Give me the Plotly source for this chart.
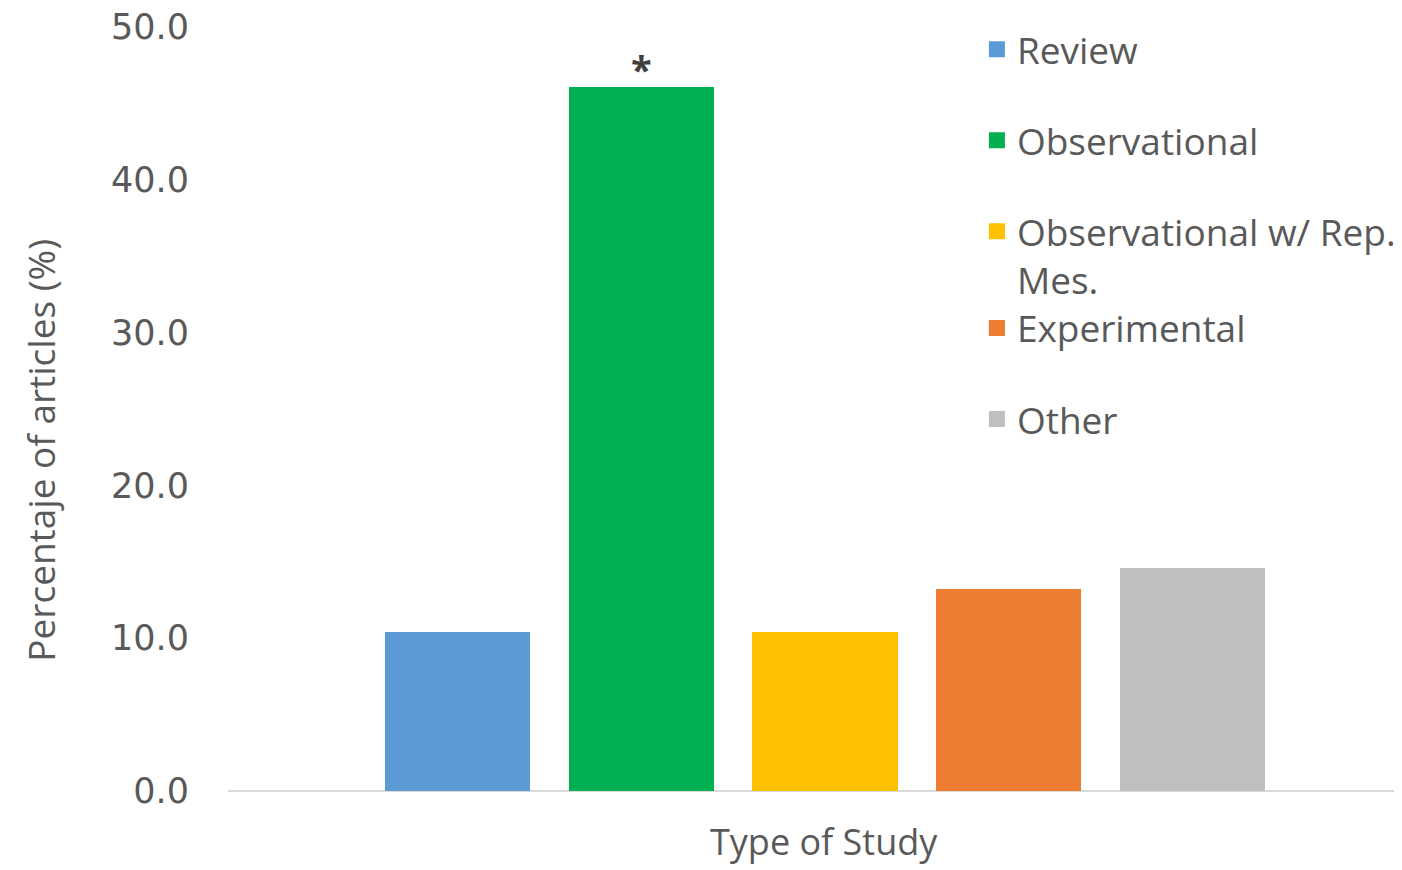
import plotly.graph_objects as go

categories = ["Review", "Observational", "Observational w/ Rep.<br>Mes.", "Experimental", "Other"]
values = [10.4, 46.1, 10.4, 13.2, 14.6]
colors = ["#5B9BD5", "#00B050", "#FFC000", "#ED7D31", "#BFBFBF"]
legend_ids = ["legend", "legend", "legend", "legend2", "legend2"]
y_ticks = [0, 10, 20, 30, 40, 50]
y_tick_labels = ["0.0", "10.0", "20.0", "30.0", "40.0", "50.0"]
significant = [False, True, False, False, False]
x_title = "Type of Study"
y_title = "Percentaje of articles (%)"

TEXT = "#595959"

fig = go.Figure()
for i, (cat, val, col, lg) in enumerate(zip(categories, values, colors, legend_ids)):
    fig.add_trace(go.Bar(
        x=[i], y=[val], name=cat, marker=dict(color=col, line=dict(width=0)),
        width=0.79, legendgroup=f"g{i}", showlegend=False,
    ))
    # legend entry (square swatch) for the same category
    fig.add_trace(go.Scatter(
        x=[None], y=[None], mode="markers", name=cat, legendgroup=f"g{i}",
        marker=dict(symbol="square", size=22, color=col), legend=lg,
    ))
    if significant[i]:
        fig.add_annotation(x=i, y=val, text="<b>*</b>", showarrow=False, yanchor="bottom",
                           yshift=-10, font=dict(size=38, color="#404040", family="Open Sans"))

legend_common = dict(xanchor="left", yanchor="top",
                     font=dict(size=37, color=TEXT, family="Open Sans"),
                     tracegroupgap=40, itemwidth=30, bgcolor="rgba(0,0,0,0)", valign="top")

fig.update_layout(
    width=1402, height=870,
    margin=dict(l=220, r=10, t=19, b=87, autoexpand=False),
    plot_bgcolor="white", paper_bgcolor="white",
    font=dict(family="Open Sans", color=TEXT),
    showlegend=True,
    legend=dict(x=0.639, y=1.011, **legend_common),
    legend2=dict(x=0.639, y=0.646, **legend_common),
    bargap=0,
)
# axis titles
fig.add_annotation(xref="paper", yref="paper", x=-0.160, y=0.446, text=y_title,
                   textangle=-90, showarrow=False, xanchor="center", yanchor="middle",
                   font=dict(size=37, color=TEXT, family="Open Sans"))
fig.add_annotation(xref="paper", yref="paper", x=0.5085, y=0, yshift=-50, text=x_title,
                   showarrow=False, xanchor="center", yanchor="middle",
                   font=dict(size=36, color=TEXT, family="Open Sans"))

fig.update_xaxes(range=[-1.25, 5.13], showticklabels=False, ticks="", showgrid=False,
                 zeroline=False, showline=False, automargin=False)
fig.update_yaxes(range=[0, 50], tickvals=y_ticks, ticktext=y_tick_labels, showgrid=False,
                 zeroline=True, zerolinecolor="#D9D9D9", zerolinewidth=2, showline=False,
                 ticks="", ticklabelstandoff=38, ticklabeloverflow="allow", automargin=False,
                 tickfont=dict(size=35, color=TEXT, family="DejaVu Sans"))

fig.write_html("out.html")
